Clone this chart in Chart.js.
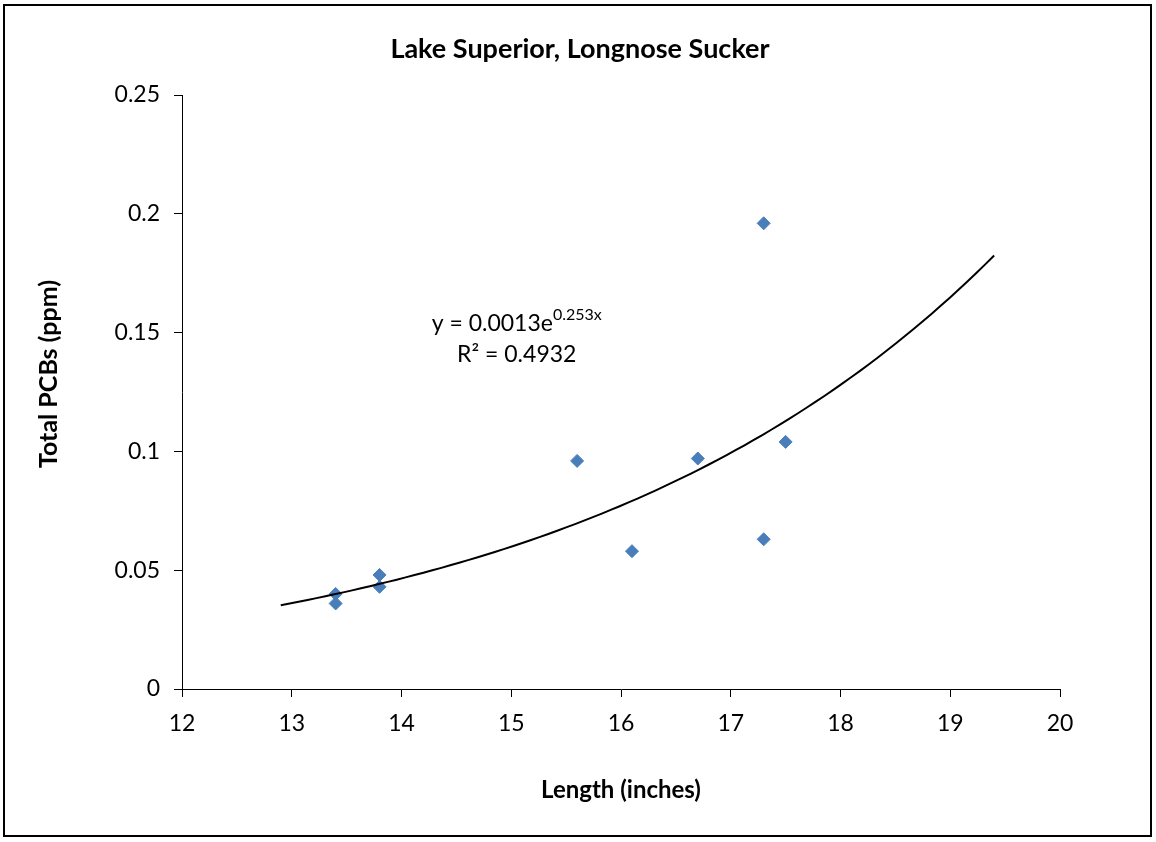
<!DOCTYPE html>
<html>
<head>
<meta charset="utf-8">
<script src="https://cdn.jsdelivr.net/npm/chart.js@4"></script>
<style>
  html, body { margin: 0; padding: 0; background: #fff; }
  #wrap { width: 1156px; height: 842px; }
</style>
</head>
<body>
<div id="wrap"><canvas id="fishChart" width="1156" height="842"></canvas></div>
<script>
// data
var chartTitle = 'Lake Superior, Longnose Sucker';
var xTitle = 'Length (inches)';
var yTitle = 'Total PCBs (ppm)';
var lengths = [13.4, 13.4, 13.8, 13.8, 15.6, 16.1, 16.7, 17.3, 17.3, 17.5];
var pcbs = [0.040, 0.036, 0.048, 0.043, 0.096, 0.058, 0.097, 0.196, 0.063, 0.104];
var xTicks = [12, 13, 14, 15, 16, 17, 18, 19, 20];
var yTicks = [0, 0.05, 0.1, 0.15, 0.2, 0.25];
var yTickLabels = ['0', '0.05', '0.1', '0.15', '0.2', '0.25'];
var trendRange = [12.9, 19.4];
var eqText = ['y = 0.0013e', '0.253x'];
var r2Text = 'R² = 0.4932';

var FONT = 'Lato, "Liberation Sans", sans-serif';

// exponential trendline fitted on ln(y), like excel does
var n = lengths.length, mx = 0, my = 0;
for (var i = 0; i < n; i++) { mx += lengths[i]; my += Math.log(pcbs[i]); }
mx /= n; my /= n;
var sxy = 0, sxx = 0;
for (var i = 0; i < n; i++) {
  sxy += (lengths[i] - mx) * (Math.log(pcbs[i]) - my);
  sxx += (lengths[i] - mx) * (lengths[i] - mx);
}
var b = sxy / sxx;
var a = Math.exp(my - b * mx);
var trendPts = [];
for (var k = 0; k <= 80; k++) {
  var x = trendRange[0] + (trendRange[1] - trendRange[0]) * k / 80;
  trendPts.push({x: x, y: a * Math.exp(b * x)});
}

var points = lengths.map(function (v, i) { return {x: v, y: pcbs[i]}; });

// frame, titles and the equation box
var extras = {
  id: 'extras',
  afterDraw: function (chart) {
    var ctx = chart.ctx;
    var xs = chart.scales.x, ys = chart.scales.y;
    ctx.save();
    ctx.strokeStyle = '#000';
    ctx.lineWidth = 2;
    ctx.strokeRect(4, 5, 1147, 831);

    ctx.fillStyle = '#000';
    ctx.textBaseline = 'middle';
    ctx.textAlign = 'center';
    ctx.font = 'bold 27px ' + FONT;
    ctx.fillText(chartTitle, 580, 49);

    // y axis title sits a bit above the axis middle in the original
    ctx.save();
    ctx.translate(49, 374);
    ctx.rotate(-Math.PI / 2);
    ctx.font = 'bold 25px ' + FONT;
    ctx.fillText(yTitle, 0, 0);
    ctx.restore();

    // equation: main part + superscript, centred as one line
    var cx = xs.getPixelForValue(15.05);
    var y1 = ys.getPixelForValue(0.154);
    var y2 = ys.getPixelForValue(0.1406);
    ctx.font = '23px ' + FONT;
    var w1 = ctx.measureText(eqText[0]).width;
    ctx.font = '16px ' + FONT;
    var w2 = ctx.measureText(eqText[1]).width;
    var left = cx - (w1 + w2) / 2;
    ctx.textAlign = 'left';
    ctx.font = '23px ' + FONT;
    ctx.fillText(eqText[0], left, y1);
    ctx.font = '16px ' + FONT;
    ctx.fillText(eqText[1], left + w1, y1 - 8);
    ctx.textAlign = 'center';
    ctx.font = '23px ' + FONT;
    ctx.fillText(r2Text, cx, y2);
    ctx.restore();
  }
};

var ctx = document.getElementById('fishChart').getContext('2d');
var fishChart = new Chart(ctx, {
  type: 'scatter',
  data: {
    datasets: [{
      type: 'line',
      data: trendPts,
      borderColor: '#000',
      borderWidth: 2,
      pointRadius: 0,
      fill: false,
      tension: 0,
      order: 0
    }, {
      data: points,
      pointStyle: 'rectRot',
      pointRadius: 6.5,
      pointBackgroundColor: '#4a7ebb',
      pointBorderColor: '#4a7ebb',
      pointBorderWidth: 1,
      order: 1
    }]
  },
  options: {
    responsive: false,
    animation: false,
    layout: { padding: { top: 95, right: 96, bottom: 0, left: 0 } },
    plugins: {
      legend: { display: false },
      tooltip: { enabled: false }
    },
    scales: {
      x: {
        type: 'linear',
        min: 12,
        max: 20,
        afterBuildTicks: function (s) { s.ticks = xTicks.map(function (v) { return {value: v}; }); },
        afterFit: function (s) { s.height = 153; },
        ticks: { color: '#000', padding: 13, font: { family: FONT, size: 23 } },
        grid: { drawOnChartArea: false, drawTicks: true, tickLength: 8, color: '#000' },
        border: { display: true, color: '#000', width: 1 },
        title: {
          display: true, text: xTitle, color: '#000',
          font: { family: FONT, size: 24, weight: 'bold' },
          padding: { top: 0, bottom: 37 }
        }
      },
      y: {
        type: 'linear',
        min: 0,
        max: 0.25,
        afterBuildTicks: function (s) { s.ticks = yTicks.map(function (v) { return {value: v}; }); },
        afterFit: function (s) { s.width = 182; },
        ticks: {
          color: '#000', padding: 14, font: { family: FONT, size: 23 },
          callback: function (v, i) { return yTickLabels[i]; }
        },
        grid: { drawOnChartArea: false, drawTicks: true, tickLength: 8, color: '#000' },
        border: { display: true, color: '#000', width: 1 },
        title: { display: false }
      }
    }
  },
  plugins: [extras]
});
</script>
</body>
</html>
